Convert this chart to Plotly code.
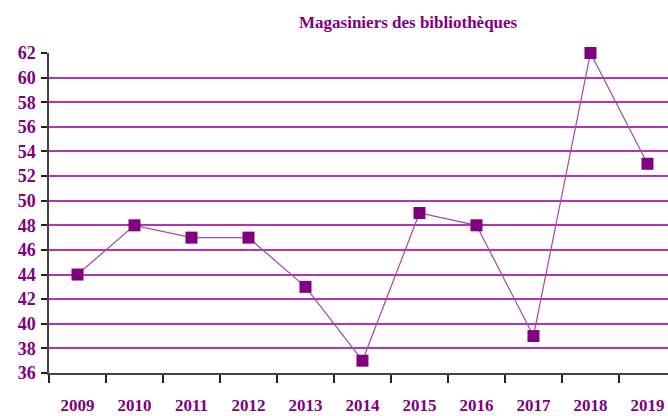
import plotly.graph_objects as go

years = ["2009", "2010", "2011", "2012", "2013", "2014", "2015", "2016", "2017", "2018", "2019"]
values = [44, 48, 47, 47, 43, 37, 49, 48, 39, 62, 53]
y_ticks = list(range(36, 63, 2))
title_text = "Magasiniers des bibliothèques"

font_family = "Liberation Serif, Times New Roman, serif"
purple = "#800080"

fig = go.Figure()
fig.add_trace(go.Scatter(
    x=years, y=values, mode="lines+markers",
    line=dict(color="#a646a6", width=1.2),
    marker=dict(symbol="square", size=12, color=purple, line=dict(width=0)),
    showlegend=False,
    cliponaxis=False,
))

fig.update_layout(
    width=668, height=416,
    margin=dict(l=49, r=0, t=53, b=43),
    paper_bgcolor="white", plot_bgcolor="white",
    title=dict(text="<b>" + title_text + "</b>", x=0.611, xref="container", xanchor="center",
               y=0.947, yref="container", yanchor="middle",
               font=dict(family=font_family, size=17, color=purple)),
    xaxis=dict(
        type="category", range=[-0.5, 10.36], automargin=False,
        showgrid=False, showline=True, linecolor="#444444", linewidth=1.5,
        ticks="outside", tickson="boundaries", ticklen=8, tickcolor="#222222", tickwidth=1.5,
        tickfont=dict(family=font_family, size=17, color=purple),
        ticklabelstandoff=16,
        tickvals=years, ticktext=["<b>" + y + "</b>" for y in years],
    ),
    yaxis=dict(
        range=[36, 62], tickvals=y_ticks, automargin=False,
        ticktext=["<b>" + str(v) + "</b>" for v in y_ticks],
        showgrid=True, gridcolor="#b236b2", gridwidth=2,
        showline=True, linecolor="#444444", linewidth=1.5,
        ticks="outside", ticklen=6, tickcolor="#222222", tickwidth=1.5,
        tickfont=dict(family=font_family, size=18, color=purple),
        ticklabelstandoff=2,
        zeroline=False,
    ),
)

fig.write_html(
    "out.html",
    config={"displayModeBar": False},
    post_script="document.body.style.margin='0';document.body.style.overflow='hidden';",
)
